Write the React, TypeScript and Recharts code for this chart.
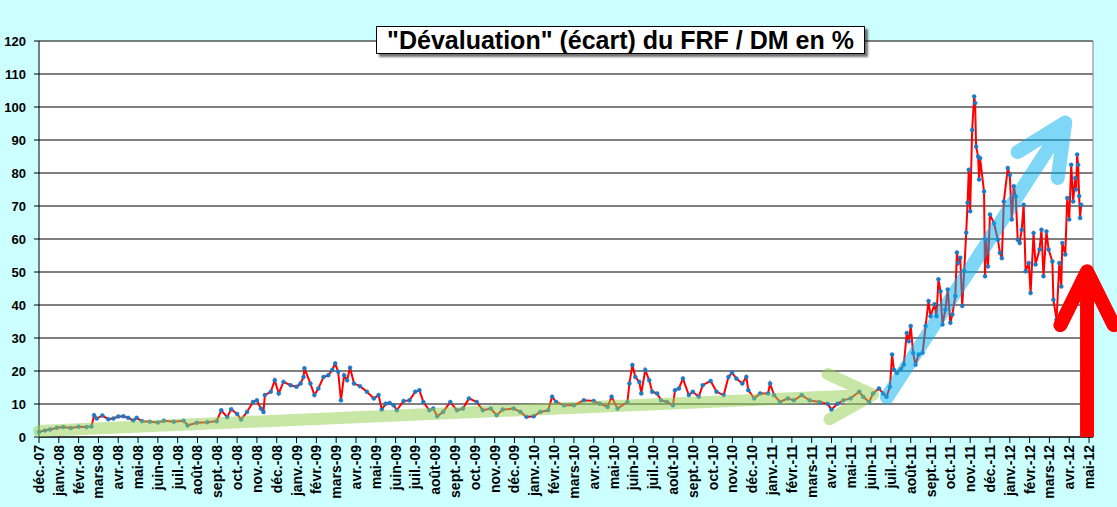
import React from "react";
import { CartesianGrid, Line, LineChart, ReferenceLine, XAxis, YAxis } from "recharts";

// mois : position en mois depuis déc.-07 (0 = déc.-07, 53 = mai-12)
const mois = [
  0, 0.3, 0.56, 0.9, 1.23, 1.6, 2, 2.4, 2.65, 2.78, 2.91, 3.2, 3.5, 3.75, 4, 4.26, 4.5, 4.76, 4.93, 5.2,
  5.6, 6, 6.3, 6.8, 7.3, 7.5, 7.96, 8.5, 8.97, 9.2, 9.5, 9.7, 10, 10.2, 10.5, 10.8, 11, 11.2, 11.33, 11.4,
  11.7, 11.9, 12.1, 12.34, 12.7, 13, 13.2, 13.35, 13.4, 13.7, 13.9, 14.1, 14.36, 14.6, 14.8, 14.95, 15.1, 15.24, 15.4, 15.55,
  15.7, 15.9, 16.2, 16.55, 16.9, 17.14, 17.3, 17.5, 17.7, 17.9, 18.06, 18.4, 18.7, 18.99, 19.2, 19.4, 19.7, 19.9, 20.1, 20.4,
  20.76, 21.1, 21.4, 21.7, 22.1, 22.4, 22.8, 23.1, 23.4, 23.96, 24.3, 24.6, 24.97, 25.3, 25.7, 25.9, 26.1, 26.5, 27, 27.5,
  28, 28.3, 28.7, 28.9, 29.2, 29.7, 29.8, 29.95, 30.1, 30.3, 30.4, 30.6, 30.8, 30.95, 31.2, 31.4, 31.7, 32, 32.1, 32.3,
  32.5, 32.8, 33, 33.3, 33.5, 33.9, 34.2, 34.56, 34.8, 34.98, 35.2, 35.5, 35.7, 35.8, 36.1, 36.4, 36.8, 36.9, 37.1, 37.4,
  37.8, 38.1, 38.5, 38.9, 39.4, 39.8, 40, 40.3, 40.6, 40.96, 41.4, 41.6, 41.9, 42.1, 42.4, 42.6, 42.78, 42.95, 43.06, 43.15,
  43.3, 43.5, 43.65, 43.8, 43.9, 44, 44.12, 44.24, 44.4, 44.6, 44.75, 44.9, 45, 45.2, 45.3, 45.4, 45.5, 45.6, 45.75, 45.87,
  46, 46.1, 46.25, 46.33, 46.4, 46.5, 46.6, 46.7, 46.8, 46.87, 46.93, 47, 47.1, 47.2, 47.25, 47.3, 47.4, 47.45, 47.5, 47.7,
  47.75, 47.8, 47.9, 48, 48.2, 48.4, 48.5, 48.6, 48.7, 48.9, 49, 49.1, 49.2, 49.3, 49.4, 49.5, 49.6, 49.7, 49.8, 49.96,
  50.05, 50.2, 50.3, 50.5, 50.6, 50.7, 50.85, 50.96, 51.15, 51.2, 51.36, 51.5, 51.6, 51.65, 51.8, 51.9, 52, 52.1, 52.2, 52.3,
  52.35, 52.4, 52.45, 52.5, 52.55, 52.6,
];

// écart FRF / DM en %
const ecart = [
  1.5, 2.0, 2.3, 2.8, 3.0, 2.7, 3.1, 3.0, 3.2, 6.6, 5.6, 6.5, 5.4, 5.6, 6.2, 6.3, 5.8, 5.0, 5.8, 4.8,
  4.6, 4.4, 4.9, 4.6, 4.9, 3.5, 4.3, 4.5, 4.8, 8.1, 6.0, 8.4, 7.0, 5.3, 7.6, 10.6, 11.1, 8.6, 7.6, 12.7,
  13.7, 17.2, 13.2, 16.7, 15.7, 15.2, 16.2, 18.2, 20.8, 16.2, 12.7, 14.7, 18.2, 18.7, 20.3, 22.3, 19.8, 11.1, 18.7, 17.2,
  21.0, 16.2, 15.4, 13.7, 11.7, 12.7, 8.3, 10.1, 10.3, 9.6, 8.1, 10.9, 11.1, 13.7, 14.2, 10.6, 8.1, 8.6, 6.3, 7.6,
  10.6, 8.1, 8.6, 11.7, 10.6, 8.1, 8.6, 6.6, 8.3, 8.6, 7.6, 6.1, 6.3, 7.6, 8.1, 12.2, 10.6, 9.6, 9.6, 11.1,
  10.9, 10.1, 9.1, 12.2, 8.6, 10.6, 16.2, 21.8, 18.2, 16.7, 13.2, 20.3, 17.2, 13.7, 13.2, 11.1, 10.6, 9.6, 14.2, 14.7,
  17.7, 12.7, 13.7, 12.2, 15.7, 17.0, 13.7, 12.7, 18.2, 19.5, 17.7, 16.2, 18.2, 14.2, 11.7, 13.2, 13.2, 16.2, 12.7, 10.6,
  11.7, 11.1, 12.7, 11.1, 10.6, 10.1, 8.3, 10.1, 11.1, 11.7, 13.7, 12.2, 10.6, 13.2, 14.7, 13.2, 12.2, 15.2, 25.0, 20.4,
  19.4, 20.5, 21.9, 31.5, 29.0, 33.6, 25.5, 21.9, 25.0, 25.5, 33.6, 41.2, 36.6, 40.2, 36.6, 47.8, 44.2, 34.1, 38.6, 44.7,
  34.6, 37.1, 42.7, 55.9, 52.8, 54.3, 39.7, 50.3, 61.9, 71.0, 81.0, 68.4, 93.0, 103.2, 101.2, 88.0, 85.0, 78.0, 84.5, 74.4,
  48.7, 59.8, 51.7, 67.4, 64.8, 59.8, 55.8, 54.2, 71.4, 81.5, 79.4, 65.9, 76.0, 72.9, 59.8, 58.8, 62.8, 70.4, 50.2, 52.7,
  43.6, 61.8, 52.3, 56.8, 62.8, 48.7, 62.3, 56.8, 53.2, 41.6, 35.6, 52.7, 45.6, 58.8, 55.3, 72.4, 65.9, 82.5, 71.4, 78.5,
  75.0, 85.6, 82.5, 73.0, 66.4, 70.4,
];

const moisLabels = [
  "déc.-07", "janv.-08", "févr.-08", "mars-08", "avr.-08", "mai-08", "juin-08", "juil.-08", "août-08", "sept.-08",
  "oct.-08", "nov.-08", "déc.-08", "janv.-09", "févr.-09", "mars-09", "avr.-09", "mai-09", "juin-09", "juil.-09",
  "août-09", "sept.-09", "oct.-09", "nov.-09", "déc.-09", "janv.-10", "févr.-10", "mars-10", "avr.-10", "mai-10",
  "juin-10", "juil.-10", "août-10", "sept.-10", "oct.-10", "nov.-10", "déc.-10", "janv.-11", "févr.-11", "mars-11",
  "avr.-11", "mai-11", "juin-11", "juil.-11", "août-11", "sept.-11", "oct.-11", "nov.-11", "déc.-11", "janv.-12",
  "févr.-12", "mars-12", "avr.-12", "mai-12",
];

const yTicks = [0, 10, 20, 30, 40, 50, 60, 70, 80, 90, 100, 110, 120];

const data = mois.map((m, i) => ({ m, v: ecart[i] }));
const xTicks = moisLabels.map((_, i) => i);

const FONT = "Arial, 'Liberation Sans', sans-serif";
const W = 1117;
const H = 507;
const MARGIN = { top: 41, right: 24, left: 9, bottom: 5 };

function MonthTick(props: any) {
  const { x, y, payload } = props;
  return (
    <g transform={`translate(${x},${y})`}>
      <text
        transform="rotate(-90)"
        textAnchor="end"
        dy={5}
        fontSize={14}
        fontWeight="bold"
        fontFamily={FONT}
        fill="#000"
      >
        {moisLabels[payload.value]}
      </text>
    </g>
  );
}

// flèche dessinée à partir du segment (pixels donnés par la ReferenceLine)
function arrow(color: string, width: number, opacity: number, head: number, spread: number, buttShaft = false) {
  return (props: any) => {
    const { x1, y1, x2, y2 } = props;
    const a = Math.atan2(y1 - y2, x1 - x2);
    const ax = x2 + head * Math.cos(a + spread);
    const ay = y2 + head * Math.sin(a + spread);
    const bx = x2 + head * Math.cos(a - spread);
    const by = y2 + head * Math.sin(a - spread);
    const heads = `M${ax},${ay}L${x2},${y2}L${bx},${by}`;
    const shaft = `M${x1},${y1}L${x2},${y2}`;
    return (
      <g opacity={opacity}>
        {buttShaft ? (
          <>
            <path d={shaft} stroke={color} strokeWidth={width} fill="none" />
            <path d={heads} stroke={color} strokeWidth={width} fill="none" strokeLinecap="round" strokeLinejoin="round" />
          </>
        ) : (
          <path d={shaft + heads} stroke={color} strokeWidth={width} fill="none" strokeLinecap="round" strokeLinejoin="round" />
        )}
      </g>
    );
  };
}

export default function App() {
  return (
    <div
      style={{
        position: "absolute",
        left: 0,
        top: 0,
        width: W,
        height: H,
        background: "#CCFFFF",
        overflow: "hidden",
        fontFamily: FONT,
      }}
    >
      <LineChart width={W} height={H} data={data} margin={MARGIN}>
        <CartesianGrid vertical={false} stroke="#000" fill="#fff" />
        <XAxis
          dataKey="m"
          type="number"
          domain={[0, 53.2]}
          ticks={xTicks}
          interval={0}
          height={65}
          tickSize={6}
          tickMargin={2}
          tick={<MonthTick />}
          stroke="#000"
        />
        <YAxis
          domain={[0, 120]}
          ticks={yTicks}
          interval={0}
          width={30}
          tickSize={5}
          tickMargin={8}
          stroke="#000"
          tick={{ fontSize: 13, fontWeight: "bold", fill: "#000", fontFamily: FONT }}
        />
        <ReferenceLine y={120} stroke="#808080" />
        <ReferenceLine x={53.2} stroke="#808080" />
        <Line
          dataKey="v"
          type="linear"
          stroke="#FF0000"
          strokeWidth={2}
          dot={{ r: 2, fill: "#1F78C4", stroke: "#1F78C4", strokeWidth: 0.5 }}
          isAnimationActive={false}
        />
      </LineChart>

      {/* calque des flèches, mêmes échelles, posé au-dessus de la courbe */}
      <div style={{ position: "absolute", left: 0, top: 0, width: W, height: H, pointerEvents: "none" }}>
        <LineChart width={W} height={H} data={data} margin={MARGIN}>
          <XAxis
            dataKey="m"
            type="number"
            domain={[0, 53.2]}
            ticks={xTicks}
            height={65}
            tick={false}
            axisLine={false}
            tickLine={false}
          />
          <YAxis domain={[0, 120]} ticks={yTicks} width={30} tick={false} axisLine={false} tickLine={false} />
          <Line dataKey="v" stroke="none" dot={false} activeDot={false} isAnimationActive={false} />
          <ReferenceLine
            segment={[{ x: 0, y: 1.8 }, { x: 42.1, y: 12.8 }]}
            ifOverflow="visible"
            shape={arrow("#92D050", 12, 0.5, 50, 0.47)}
          />
          <ReferenceLine
            segment={[{ x: 42.8, y: 12 }, { x: 51.8, y: 95.3 }]}
            ifOverflow="visible"
            shape={arrow("#00B0F0", 14, 0.5, 56, 0.44)}
          />
          <ReferenceLine
            segment={[{ x: 52.9, y: 0 }, { x: 52.9, y: 50.2 }]}
            ifOverflow="visible"
            shape={arrow("#FF0000", 14, 1, 60, 0.46, true)}
          />
        </LineChart>
      </div>

      <div
        style={{
          position: "absolute",
          left: 376,
          top: 26,
          width: 487,
          height: 26,
          border: "1px solid #000",
          background: "#fff",
          boxShadow: "3px 3px 2px rgba(0,0,0,0.55)",
          fontSize: 25,
          fontWeight: "bold",
          lineHeight: "26px",
          textAlign: "center",
          color: "#000",
          whiteSpace: "nowrap",
        }}
      >
        "Dévaluation" (écart) du FRF / DM en %
      </div>
    </div>
  );
}
